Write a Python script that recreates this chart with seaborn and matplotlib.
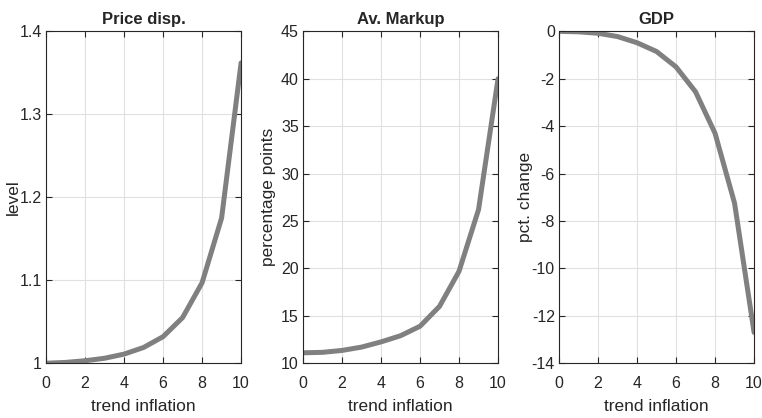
import numpy as np
import pandas as pd
import matplotlib
matplotlib.use('Agg')
import matplotlib.pyplot as plt
import seaborn as sns

# values
trend_inflation = [0, 1, 2, 3, 4, 5, 6, 7, 8, 9, 10]
price_disp = [1.000, 1.001, 1.003, 1.006, 1.011, 1.019, 1.032, 1.055, 1.097, 1.175, 1.362]
av_markup = [11.1, 11.15, 11.35, 11.7, 12.25, 12.9, 13.9, 16.0, 19.7, 26.2, 40.0]
gdp = [0.0, -0.02, -0.08, -0.22, -0.48, -0.85, -1.5, -2.55, -4.3, -7.25, -12.7]

titles = ['Price disp.', 'Av. Markup', 'GDP']
ylabels = ['level', 'percentage points', 'pct. change']
series = [price_disp, av_markup, gdp]
ylims = [(1.0, 1.4), (10, 45), (-14, 0)]
yticks = [[1, 1.1, 1.2, 1.3, 1.4], [10, 15, 20, 25, 30, 35, 40, 45], [-14, -12, -10, -8, -6, -4, -2, 0]]
ytick_labels = [['1', '1.1', '1.2', '1.3', '1.4'],
                ['10', '15', '20', '25', '30', '35', '40', '45'],
                ['-14', '-12', '-10', '-8', '-6', '-4', '-2', '0']]

sns.set_style('white')
plt.rcParams['font.family'] = ['Liberation Sans Narrow', 'Liberation Sans', 'DejaVu Sans']

fig = plt.figure(figsize=(7.62, 4.18), dpi=100)
lefts = [0.0604, 0.3976, 0.7336]
ylabel_x = [-0.13, -0.14, -0.135]

for i in range(3):
    ax = fig.add_axes([lefts[i], 0.131, 0.256, 0.794])
    df = pd.DataFrame({'x': trend_inflation, 'y': series[i]})
    sns.lineplot(data=df, x='x', y='y', ax=ax, color='#808080', linewidth=3.6)
    ax.set_xlim(0, 10)
    ax.set_ylim(*ylims[i])
    ax.set_xticks([0, 2, 4, 6, 8, 10])
    ax.set_xticklabels(['0', '2', '4', '6', '8', '10'], fontsize=11.5)
    ax.set_yticks(yticks[i])
    ax.set_yticklabels(ytick_labels[i], fontsize=11.5)
    ax.grid(True, color='#e0e0e0', linewidth=0.8)
    ax.tick_params(direction='in', length=4, width=0.8, top=True, right=True,
                   bottom=True, left=True, colors='#262626')
    ax.tick_params(axis='x', pad=9)
    ax.tick_params(axis='y', pad=3)
    for s in ax.spines.values():
        s.set_color('#262626')
        s.set_linewidth(0.8)
    ax.set_title(titles[i], fontsize=12, fontweight='bold', pad=5)
    ax.set_xlabel('trend inflation', fontsize=12.5, labelpad=6)
    ax.set_ylabel(ylabels[i], fontsize=12.5)
    ax.yaxis.set_label_coords(ylabel_x[i], 0.5)

plt.savefig('out.png', dpi=100)
